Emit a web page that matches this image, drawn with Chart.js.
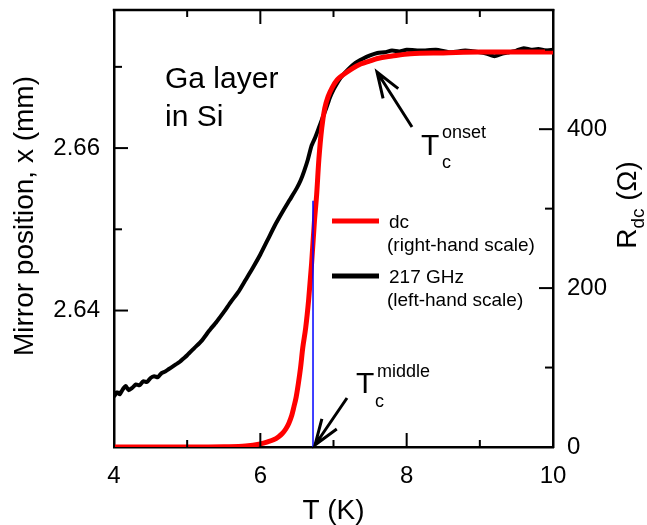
<!DOCTYPE html>
<html>
<head>
<meta charset="utf-8">
<script src="https://cdn.jsdelivr.net/npm/chart.js@4.4.1/dist/chart.umd.min.js"></script>
<style>
  body { margin: 0; background: #fff; }
  canvas { display: block; }
</style>
</head>
<body>
<canvas id="chart" width="647" height="525"></canvas>
<script>
// 217 GHz trace: temperature (K) and mirror position (mm), left-hand scale
const ghzTemps = [4.00, 4.04, 4.08, 4.12, 4.16, 4.20, 4.25, 4.30, 4.35, 4.40, 4.45, 4.50, 4.55, 4.60, 4.65, 4.70,
    4.75, 4.80, 4.85, 4.90, 4.95, 5.00, 5.10, 5.20, 5.30, 5.40, 5.50, 5.60, 5.70, 5.80, 5.90, 6.00, 6.10, 6.20,
    6.30, 6.40, 6.50, 6.55, 6.60, 6.65, 6.70, 6.75, 6.80, 6.85, 6.90, 6.95, 7.00, 7.05, 7.10, 7.20, 7.30, 7.40,
    7.50, 7.60, 7.70, 7.80, 7.90, 8.00, 8.20, 8.40, 8.60, 8.80, 9.00, 9.10, 9.20, 9.30, 9.40, 9.50, 9.60, 9.70,
    9.80, 9.90, 10.00];
const ghzMirror = [2.6294, 2.6299, 2.6297, 2.6303, 2.6307, 2.6302, 2.6305, 2.6309, 2.6308, 2.6313, 2.6312, 2.6317,
    2.6319, 2.6318, 2.6323, 2.6325, 2.6328, 2.6331, 2.6334, 2.6337, 2.6341, 2.6345, 2.6354, 2.6363, 2.6375, 2.6386,
    2.6398, 2.6411, 2.6423, 2.6438, 2.6453, 2.6469, 2.6487, 2.6505, 2.6521, 2.6536, 2.6551, 2.6560, 2.6572, 2.6586,
    2.6603, 2.6613, 2.6625, 2.6637, 2.6649, 2.6662, 2.6672, 2.6680, 2.6687, 2.6697, 2.6705, 2.6710, 2.6714, 2.6717,
    2.6718, 2.6720, 2.6719, 2.6721, 2.6720, 2.6721, 2.6718, 2.6720, 2.6718, 2.6716, 2.6713, 2.6716, 2.6718, 2.6720,
    2.6723, 2.6721, 2.6722, 2.6720, 2.6721];

// dc resistance (Ohm), right-hand scale
const dcTemps = [4.0, 5.0, 5.5, 5.8, 6.0, 6.1, 6.18, 6.25, 6.3, 6.35, 6.39, 6.43, 6.46, 6.49, 6.52, 6.55, 6.58,
    6.62, 6.66, 6.70, 6.74, 6.77, 6.80, 6.84, 6.88, 6.93, 6.98, 7.05, 7.14, 7.25, 7.37, 7.5, 7.6, 7.8, 8.05, 8.5,
    9.0, 9.5, 10.0];
const dcResistance = [0, 0, 0.3, 1.2, 4, 6.5, 9, 13, 17, 23, 30, 40, 51, 63, 80, 100, 125, 150, 185, 230, 285,
    318, 362, 402, 426, 442, 452, 462, 469, 476, 482, 486, 489, 492, 495, 496, 497, 497, 497];

// Tc middle marker
const tcMiddle = 6.72;
const tcMiddleTop = 310;

const xTicks = [4, 6, 8, 10];
const xMinorTicks = [5, 7, 9];
const leftTicks = [2.64, 2.66];
const leftMinorTicks = [2.63, 2.65, 2.67];
const rightTicks = [0, 200, 400];
const rightMinorTicks = [100, 300, 500];

const FONT = '"Liberation Sans", Arial, sans-serif';
Chart.defaults.color = '#000';
Chart.defaults.font.family = FONT;

function arrow(ctx, x0, y0, x1, y1) {
    const ang = Math.atan2(y1 - y0, x1 - x0);
    const len = 27, spread = 0.34;
    ctx.beginPath();
    ctx.moveTo(x0, y0);
    ctx.lineTo(x1, y1);
    ctx.moveTo(x1 - len * Math.cos(ang - spread), y1 - len * Math.sin(ang - spread));
    ctx.lineTo(x1, y1);
    ctx.lineTo(x1 - len * Math.cos(ang + spread), y1 - len * Math.sin(ang + spread));
    ctx.stroke();
}

// inward ticks, top frame, y titles, legend and annotations
const decorations = {
    id: 'decorations',
    afterDatasetsDraw(chart) {
        const { ctx, chartArea: a, scales: { x, y, y1 } } = chart;
        ctx.save();
        ctx.strokeStyle = '#000';
        ctx.fillStyle = '#000';

        ctx.lineWidth = 2.5;
        ctx.beginPath();
        ctx.moveTo(a.left - 1.25, a.top);
        ctx.lineTo(a.right + 1.25, a.top);
        ctx.stroke();

        ctx.lineWidth = 2;
        const seg = (x0, y0, x1, y1) => {
            ctx.beginPath(); ctx.moveTo(x0, y0); ctx.lineTo(x1, y1); ctx.stroke();
        };
        const xt = (list, len) => list.forEach(v => {
            const px = x.getPixelForValue(v);
            seg(px, a.bottom, px, a.bottom - len);
            seg(px, a.top, px, a.top + len);
        });
        xt(xTicks, 14); xt(xMinorTicks, 7);
        leftTicks.forEach(v => { const py = y.getPixelForValue(v); seg(a.left, py, a.left + 14, py); });
        leftMinorTicks.forEach(v => { const py = y.getPixelForValue(v); seg(a.left, py, a.left + 8, py); });
        rightTicks.forEach(v => { const py = y1.getPixelForValue(v); seg(a.right, py, a.right - 14, py); });
        rightMinorTicks.forEach(v => { const py = y1.getPixelForValue(v); seg(a.right, py, a.right - 8, py); });

        // left title
        ctx.save();
        ctx.translate(33, 216);
        ctx.rotate(-Math.PI / 2);
        ctx.font = '28px ' + FONT;
        ctx.textAlign = 'center';
        ctx.textBaseline = 'alphabetic';
        ctx.fillText('Mirror position, x (mm)', 0, 0);
        ctx.restore();

        // right title R_dc (Ω)
        ctx.save();
        ctx.translate(636, 205);
        ctx.rotate(-Math.PI / 2);
        ctx.textBaseline = 'alphabetic';
        ctx.font = '28px ' + FONT;
        const wR = ctx.measureText('R').width;
        const wRest = ctx.measureText(' (\u03A9)').width;
        ctx.font = '19px ' + FONT;
        const wSub = ctx.measureText('dc').width;
        let sx = -(wR + wSub + wRest) / 2;
        ctx.font = '28px ' + FONT;
        ctx.fillText('R', sx, 0);
        ctx.font = '19px ' + FONT;
        ctx.fillText('dc', sx + wR, 8);
        ctx.font = '28px ' + FONT;
        ctx.fillText(' (\u03A9)', sx + wR + wSub, 0);
        ctx.restore();

        // sample label
        ctx.textBaseline = 'alphabetic';
        ctx.textAlign = 'left';
        ctx.font = '30px ' + FONT;
        ctx.fillText('Ga layer', 165, 88);
        ctx.fillText('in Si', 165, 126);

        // Tc onset
        ctx.fillText('T', 421, 155);
        ctx.font = '18px ' + FONT;
        ctx.fillText('onset', 442, 138);
        ctx.fillText('c', 442, 168);
        // Tc middle
        ctx.font = '30px ' + FONT;
        ctx.fillText('T', 356, 393);
        ctx.font = '18px ' + FONT;
        ctx.fillText('middle', 377, 377);
        ctx.fillText('c', 375, 407);

        ctx.lineWidth = 3;
        arrow(ctx, 412, 127, 377, 72);
        arrow(ctx, 347, 398, 315, 445);

        // legend
        ctx.lineWidth = 5;
        ctx.strokeStyle = '#ff0000';
        seg(332, 221, 379, 221);
        ctx.strokeStyle = '#000';
        seg(332, 276, 379, 276);
        ctx.font = '19px ' + FONT;
        ctx.fillText('dc', 389, 228);
        ctx.fillText('(right-hand scale)', 387, 251);
        ctx.fillText('217 GHz', 389, 283);
        ctx.fillText('(left-hand scale)', 387, 306);

        ctx.restore();
    }
};

const tickFont = { size: 24 };
// keep the plot frame at fixed pixels: no extra room for edge labels
const noEdgePadding = s => { s.paddingTop = 0; s.paddingBottom = 0; s.paddingLeft = 0; s.paddingRight = 0; };

new Chart(document.getElementById('chart'), {
    type: 'line',
    data: {
        datasets: [
            {
                label: 'Tc middle',
                data: [{ x: tcMiddle, y: 0 }, { x: tcMiddle, y: tcMiddleTop }],
                yAxisID: 'y1',
                borderColor: '#0000ff',
                borderWidth: 1.5,
                pointRadius: 0
            },
            {
                label: 'dc',
                data: dcTemps.map((t, i) => ({ x: t, y: dcResistance[i] })),
                yAxisID: 'y1',
                borderColor: '#ff0000',
                borderWidth: 5,
                pointRadius: 0,
                cubicInterpolationMode: 'monotone'
            },
            {
                label: '217 GHz',
                data: ghzTemps.map((t, i) => ({ x: t, y: ghzMirror[i] })),
                yAxisID: 'y',
                borderColor: '#000',
                borderWidth: 4,
                pointRadius: 0,
                tension: 0.2
            }
        ]
    },
    options: {
        responsive: false,
        animation: false,
        layout: { padding: { top: 10, left: 0, right: 0, bottom: 0 } },
        plugins: { legend: { display: false }, tooltip: { enabled: false } },
        scales: {
            x: {
                type: 'linear',
                min: 4, max: 10,
                afterBuildTicks: s => { s.ticks = xTicks.map(v => ({ value: v })); },
                afterFit: s => { s.height = 78; noEdgePadding(s); },
                grid: { display: false, drawTicks: false },
                border: { display: true, color: '#000', width: 2.5 },
                ticks: { font: tickFont, padding: 15, maxRotation: 0 },
                title: { display: true, text: 'T (K)', font: { size: 28, lineHeight: 1 }, padding: 0 }
            },
            y: {
                position: 'left',
                min: 2.6232, max: 2.6770,
                afterBuildTicks: s => { s.ticks = leftTicks.map(v => ({ value: v })); },
                afterFit: s => { s.width = 114; noEdgePadding(s); },
                grid: { display: false, drawTicks: false },
                border: { display: true, color: '#000', width: 2.5 },
                ticks: { font: tickFont, padding: 14, callback: v => v.toFixed(2) }
            },
            y1: {
                position: 'right',
                min: 0, max: 550,
                afterBuildTicks: s => { s.ticks = rightTicks.map(v => ({ value: v })); },
                afterFit: s => { s.width = 94; noEdgePadding(s); },
                grid: { display: false, drawTicks: false },
                border: { display: true, color: '#000', width: 2.5 },
                ticks: { font: tickFont, padding: 14 }
            }
        }
    },
    plugins: [decorations]
});
</script>
</body>
</html>
